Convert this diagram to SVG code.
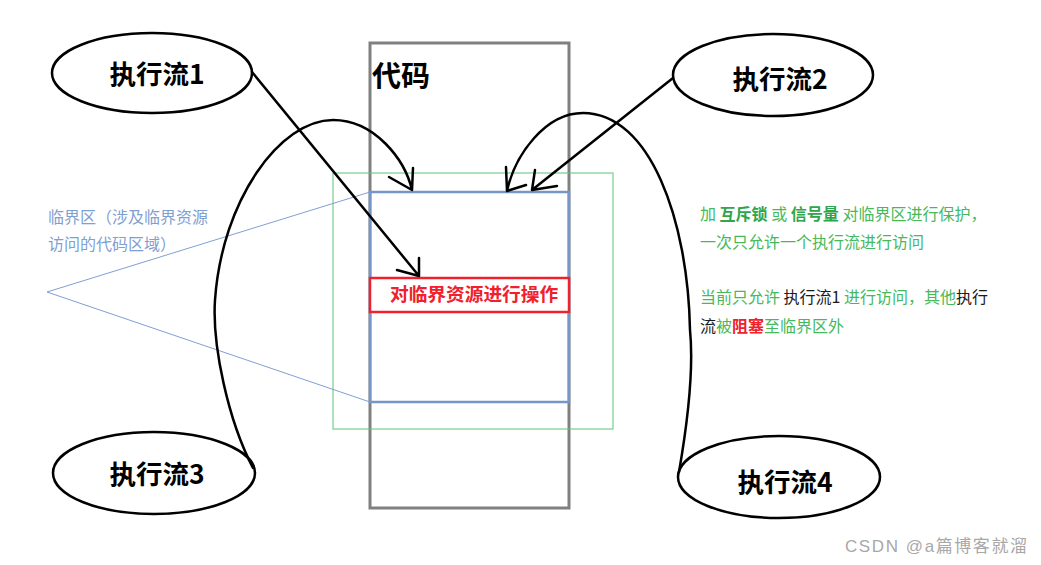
<svg xmlns="http://www.w3.org/2000/svg" width="1041" height="565" viewBox="0 0 1041 565">
<style>
.ell{fill:none;stroke:#000;stroke-width:2.5}
.et{font-family:"Noto Sans CJK SC",sans-serif;font-weight:bold;font-size:26.5px;fill:#000;text-anchor:middle}
.con{fill:none;stroke:#000;stroke-width:2.5;stroke-linecap:round;stroke-linejoin:round}
.g{font-family:"Noto Sans CJK SC",sans-serif;font-size:16px;fill:#45b95c}
.gb{font-weight:bold;fill:#2fa64a}
.k{fill:#1a1a1a}
.r{fill:#f0202c;font-weight:bold}
.cr{font-family:"Noto Sans CJK SC",sans-serif;font-size:16px;fill:#7f9fd2}
</style>
<rect width="1041" height="565" fill="#fff"/>
<g id="code">
<rect x="370" y="43" width="199" height="465" fill="none" stroke="#808080" stroke-width="3"/>
<text x="372" y="87" font-family="Noto Sans CJK SC, sans-serif" font-weight="bold" font-size="29" fill="#000">代码</text>
</g>
<g id="critical-green">
<rect x="333" y="173" width="280" height="256" fill="none" stroke="#5cc27a" stroke-width="1"/>
</g>
<g id="critical-blue">
<rect x="370" y="192" width="199" height="210" fill="none" stroke="#7497c8" stroke-width="2.5"/>
</g>
<g id="resource-op">
<rect x="370" y="278" width="199" height="34" fill="#fff" stroke="#f0202c" stroke-width="2.5"/>
<text x="390" y="301" font-family="Noto Sans CJK SC, sans-serif" font-weight="bold" font-size="18.7" fill="#f0202c">对临界资源进行操作</text>
</g>
<g id="critical-label">
<path d="M370 192 L47 292 L370 402" fill="none" stroke="#7f9fd2" stroke-width="1"/>
<text class="cr" x="48" y="223">临界区（涉及临界资源</text>
<text class="cr" x="48" y="250">访问的代码区域）</text>
</g>
<g id="flow1"><ellipse class="ell" cx="152" cy="73" rx="100" ry="40"/><text class="et" x="157" y="84">执行流1</text></g>
<g id="flow2"><ellipse class="ell" cx="773" cy="75" rx="100" ry="41"/><text class="et" x="780" y="89">执行流2</text></g>
<g id="flow3"><ellipse class="ell" cx="154" cy="473" rx="101" ry="41"/><text class="et" x="157" y="484">执行流3</text></g>
<g id="flow4"><ellipse class="ell" cx="779" cy="477" rx="101" ry="41"/><text class="et" x="785" y="492">执行流4</text></g>
<g id="connectors">
<path class="con" d="M252 72 L419 276 M397 270 L419 276 L419 258"/>
<path class="con" d="M253 468 C 228 420, 212 345, 215 300 C 222 200, 280 120, 333 120 C 375 120, 405 160, 412 190 M389 177 L412 190 L413 168"/>
<path class="con" d="M673 78 L532 190 M535 170 L532 190 L557 186"/>
<path class="con" d="M679 472 C 688 420, 694 370, 690 330 C 688 220, 650 113, 583 113 C 545 113, 515 155, 507 191 M506 167 L507 191 L526 185"/>
</g>
<g id="notes">
<text class="g" x="700" y="220">加 <tspan class="gb">互斥锁</tspan> 或 <tspan class="gb">信号量</tspan> 对临界区进行保护，</text>
<text class="g" x="700" y="248">一次只允许一个执行流进行访问</text>
<text class="g" x="700" y="303">当前只允许 <tspan class="k">执行流1</tspan> 进行访问，其他<tspan class="k">执行</tspan></text>
<text class="g" x="700" y="332"><tspan class="k">流</tspan>被<tspan class="r">阻塞</tspan>至临界区外</text>
</g>
<text x="845" y="552" font-family="Liberation Sans, Noto Sans CJK SC, sans-serif" font-size="17" fill="#a8a8a8" textLength="182" lengthAdjust="spacing">CSDN @a篇博客就溜</text>
</svg>
